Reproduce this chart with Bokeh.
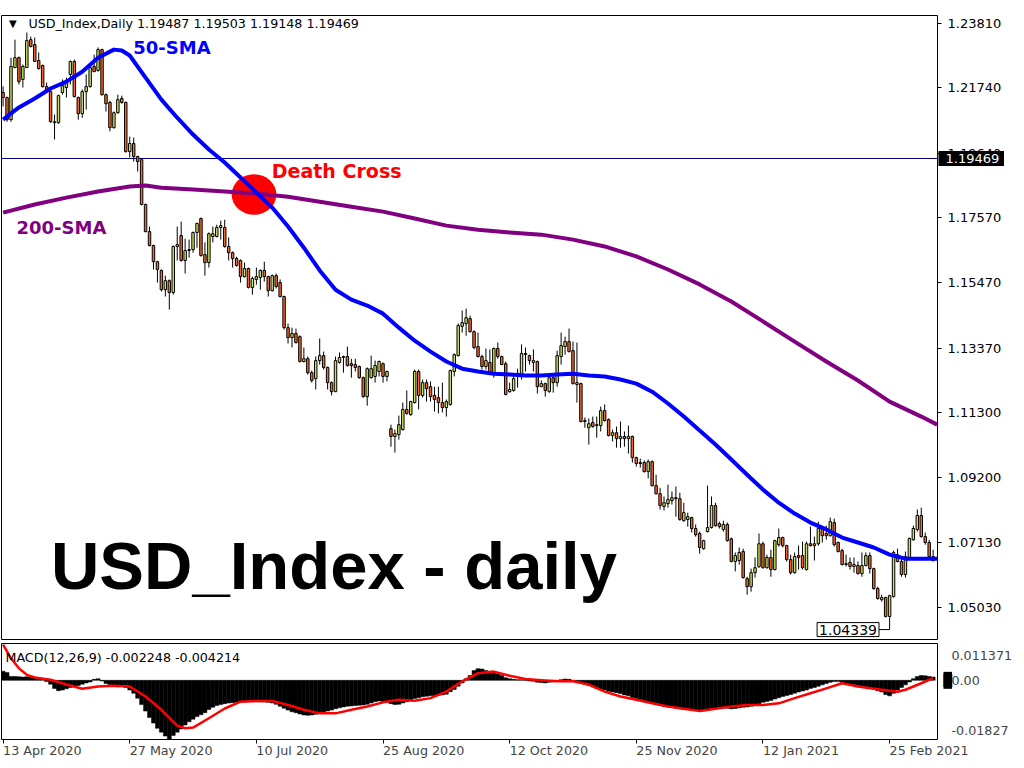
import numpy as np
from bokeh.plotting import figure
from bokeh.models import Range1d, FixedTicker, Label, Span, NumeralTickFormatter
from bokeh.layouts import column
from bokeh.embed import file_html
from bokeh.resources import INLINE

# ---------------- data ----------------
opens = [1.2159, 1.2143, 1.2072, 1.2239, 1.2271, 1.2201, 1.2239, 1.2329, 1.2313, 1.2262,
         1.2246, 1.2178, 1.2162, 1.2062, 1.2062, 1.2159, 1.2175, 1.2217, 1.2259, 1.2143,
         1.2091, 1.2162, 1.2178, 1.2243, 1.2230, 1.2297, 1.2152, 1.2127, 1.2046, 1.2094,
         1.2140, 1.2127, 1.1969, 1.1995, 1.1953, 1.1943, 1.1799, 1.1712, 1.1667, 1.1615,
         1.1587, 1.1525, 1.1554, 1.1516, 1.1664, 1.1699, 1.1619, 1.1651, 1.1654, 1.1709,
         1.1754, 1.1638, 1.1612, 1.1696, 1.1696, 1.1725, 1.1725, 1.1664, 1.1644, 1.1625,
         1.1619, 1.1567, 1.1593, 1.1532, 1.1558, 1.1564, 1.1587, 1.1567, 1.1522, 1.1570,
         1.1548, 1.1503, 1.1403, 1.1371, 1.1384, 1.1374, 1.1294, 1.1303, 1.1258, 1.1239,
         1.1297, 1.1313, 1.1275, 1.1226, 1.1197, 1.1291, 1.1307, 1.1310, 1.1287, 1.1284,
         1.1278, 1.1242, 1.1181, 1.1242, 1.1246, 1.1262, 1.1287, 1.1246, 1.1078, 1.1053,
         1.1059, 1.1075, 1.1140, 1.1123, 1.1162, 1.1262, 1.1185, 1.1226, 1.1213, 1.1185,
         1.1178, 1.1162, 1.1146, 1.1156, 1.1262, 1.1313, 1.1407, 1.1416, 1.1432, 1.1390,
         1.1342, 1.1310, 1.1278, 1.1291, 1.1258, 1.1336, 1.1310, 1.1287, 1.1197, 1.1201,
         1.1249, 1.1249, 1.1320, 1.1313, 1.1291, 1.1294, 1.1213, 1.1223, 1.1197, 1.1242,
         1.1226, 1.1310, 1.1342, 1.1358, 1.1329, 1.1220, 1.1223, 1.1101, 1.1081, 1.1098,
         1.1091, 1.1088, 1.1136, 1.1107, 1.1056, 1.1065, 1.1046, 1.1053, 1.1046, 1.1053,
         1.0985, 1.0966, 1.0969, 1.0940, 1.0972, 1.0895, 1.0869, 1.0828, 1.0837, 1.0847,
         1.0856, 1.0853, 1.0782, 1.0786, 1.0792, 1.0757, 1.0741, 1.0692, 1.0747, 1.0760,
         1.0831, 1.0773, 1.0754, 1.0770, 1.0724, 1.0651, 1.0654, 1.0683, 1.0596, 1.0570,
         1.0615, 1.0634, 1.0708, 1.0631, 1.0664, 1.0625, 1.0705, 1.0728, 1.0702, 1.0657,
         1.0615, 1.0670, 1.0670, 1.0625, 1.0708, 1.0702, 1.0708, 1.0757, 1.0741, 1.0734,
         1.0776, 1.0712, 1.0686, 1.0641, 1.0648, 1.0635, 1.0638, 1.0612, 1.0638, 1.0670,
         1.0628, 1.0564, 1.0528, 1.0535, 1.0474, 1.0538, 1.0673, 1.0651, 1.0609, 1.0664,
         1.0721, 1.0754, 1.0799, 1.0731, 1.0712, 1.0654]

highs = [1.2179, 1.2146, 1.2271, 1.2329, 1.2275, 1.2249, 1.2352, 1.2339, 1.2336, 1.2288,
         1.2249, 1.2191, 1.2165, 1.2088, 1.2152, 1.2201, 1.2207, 1.2262, 1.2265, 1.2146,
         1.2169, 1.2217, 1.2243, 1.2281, 1.2304, 1.2300, 1.2156, 1.2133, 1.2098, 1.2152,
         1.2149, 1.2130, 1.2017, 1.2014, 1.1956, 1.1946, 1.1802, 1.1728, 1.1670, 1.1618,
         1.1590, 1.1570, 1.1558, 1.1667, 1.1728, 1.1744, 1.1689, 1.1686, 1.1712, 1.1741,
         1.1757, 1.1677, 1.1709, 1.1728, 1.1734, 1.1747, 1.1750, 1.1693, 1.1648, 1.1631,
         1.1622, 1.1612, 1.1596, 1.1567, 1.1596, 1.1590, 1.1615, 1.1570, 1.1574, 1.1577,
         1.1558, 1.1506, 1.1416, 1.1403, 1.1400, 1.1378, 1.1339, 1.1310, 1.1265, 1.1310,
         1.1368, 1.1326, 1.1278, 1.1230, 1.1310, 1.1323, 1.1313, 1.1342, 1.1303, 1.1303,
         1.1281, 1.1246, 1.1275, 1.1313, 1.1297, 1.1297, 1.1291, 1.1265, 1.1091, 1.1075,
         1.1120, 1.1162, 1.1201, 1.1168, 1.1268, 1.1268, 1.1236, 1.1236, 1.1230, 1.1213,
         1.1213, 1.1226, 1.1172, 1.1268, 1.1320, 1.1416, 1.1458, 1.1464, 1.1442, 1.1394,
         1.1387, 1.1316, 1.1336, 1.1333, 1.1339, 1.1355, 1.1313, 1.1294, 1.1226, 1.1255,
         1.1271, 1.1349, 1.1339, 1.1316, 1.1333, 1.1297, 1.1233, 1.1226, 1.1252, 1.1252,
         1.1329, 1.1387, 1.1374, 1.1400, 1.1358, 1.1355, 1.1226, 1.1114, 1.1111, 1.1117,
         1.1117, 1.1149, 1.1156, 1.1111, 1.1075, 1.1085, 1.1101, 1.1069, 1.1088, 1.1056,
         1.0988, 1.0982, 1.0976, 1.0979, 1.0976, 1.0930, 1.0888, 1.0860, 1.0898, 1.0876,
         1.0892, 1.0872, 1.0840, 1.0808, 1.0795, 1.0770, 1.0747, 1.0721, 1.0895, 1.0860,
         1.0840, 1.0779, 1.0782, 1.0776, 1.0728, 1.0680, 1.0696, 1.0692, 1.0602, 1.0628,
         1.0664, 1.0741, 1.0715, 1.0673, 1.0689, 1.0721, 1.0757, 1.0731, 1.0705, 1.0673,
         1.0680, 1.0702, 1.0715, 1.0715, 1.0763, 1.0731, 1.0779, 1.0763, 1.0766, 1.0792,
         1.0789, 1.0715, 1.0692, 1.0673, 1.0664, 1.0664, 1.0651, 1.0680, 1.0680, 1.0680,
         1.0631, 1.0570, 1.0544, 1.0538, 1.0544, 1.0686, 1.0692, 1.0660, 1.0683, 1.0728,
         1.0766, 1.0818, 1.0824, 1.0744, 1.0721, 1.0689]

lows = [1.2114, 1.2065, 1.2065, 1.2239, 1.2185, 1.2175, 1.2239, 1.2304, 1.2259, 1.2233,
        1.2175, 1.2159, 1.2062, 1.2008, 1.2059, 1.2152, 1.2143, 1.2185, 1.2143, 1.2072,
        1.2078, 1.2104, 1.2175, 1.2226, 1.2226, 1.2149, 1.2098, 1.2034, 1.2043, 1.2091,
        1.2123, 1.1966, 1.1950, 1.1937, 1.1905, 1.1796, 1.1709, 1.1664, 1.1590, 1.1548,
        1.1519, 1.1503, 1.1461, 1.1509, 1.1619, 1.1615, 1.1577, 1.1628, 1.1644, 1.1660,
        1.1631, 1.1570, 1.1596, 1.1677, 1.1693, 1.1686, 1.1660, 1.1619, 1.1596, 1.1599,
        1.1548, 1.1564, 1.1529, 1.1509, 1.1541, 1.1525, 1.1551, 1.1503, 1.1519, 1.1529,
        1.1500, 1.1397, 1.1352, 1.1339, 1.1352, 1.1291, 1.1291, 1.1252, 1.1226, 1.1204,
        1.1284, 1.1268, 1.1204, 1.1185, 1.1197, 1.1287, 1.1258, 1.1278, 1.1242, 1.1262,
        1.1239, 1.1178, 1.1152, 1.1239, 1.1226, 1.1246, 1.1226, 1.1230, 1.1020, 1.1001,
        1.1043, 1.1072, 1.1123, 1.1120, 1.1159, 1.1140, 1.1178, 1.1165, 1.1165, 1.1133,
        1.1127, 1.1130, 1.1117, 1.1152, 1.1246, 1.1310, 1.1387, 1.1377, 1.1387, 1.1333,
        1.1307, 1.1268, 1.1268, 1.1252, 1.1242, 1.1303, 1.1284, 1.1185, 1.1194, 1.1197,
        1.1210, 1.1236, 1.1262, 1.1284, 1.1262, 1.1191, 1.1213, 1.1181, 1.1194, 1.1194,
        1.1213, 1.1284, 1.1316, 1.1323, 1.1220, 1.1162, 1.1098, 1.1081, 1.1027, 1.1081,
        1.1049, 1.1069, 1.1101, 1.1053, 1.1037, 1.1017, 1.1017, 1.1020, 1.0998, 1.0969,
        1.0956, 1.0953, 1.0937, 1.0918, 1.0892, 1.0866, 1.0818, 1.0815, 1.0824, 1.0834,
        1.0795, 1.0782, 1.0779, 1.0763, 1.0744, 1.0731, 1.0676, 1.0689, 1.0744, 1.0757,
        1.0763, 1.0757, 1.0747, 1.0715, 1.0648, 1.0619, 1.0641, 1.0596, 1.0544, 1.0554,
        1.0599, 1.0631, 1.0628, 1.0628, 1.0602, 1.0622, 1.0699, 1.0696, 1.0651, 1.0609,
        1.0612, 1.0625, 1.0625, 1.0622, 1.0699, 1.0654, 1.0702, 1.0712, 1.0721, 1.0731,
        1.0699, 1.0680, 1.0638, 1.0635, 1.0625, 1.0615, 1.0609, 1.0602, 1.0635, 1.0612,
        1.0560, 1.0528, 1.0522, 1.0471, 1.0471, 1.0535, 1.0648, 1.0602, 1.0599, 1.0657,
        1.0718, 1.0747, 1.0728, 1.0705, 1.0657, 1.0651]

closes = [1.2143, 1.2072, 1.2243, 1.2271, 1.2194, 1.2243, 1.2326, 1.2307, 1.2259, 1.2236,
          1.2178, 1.2162, 1.2065, 1.2065, 1.2149, 1.2181, 1.2191, 1.2259, 1.2146, 1.2091,
          1.2162, 1.2178, 1.2239, 1.2226, 1.2297, 1.2152, 1.2123, 1.2046, 1.2094, 1.2136,
          1.2127, 1.1969, 1.1995, 1.1953, 1.1937, 1.1799, 1.1712, 1.1667, 1.1615, 1.1590,
          1.1525, 1.1554, 1.1516, 1.1664, 1.1670, 1.1619, 1.1651, 1.1654, 1.1709, 1.1738,
          1.1635, 1.1612, 1.1705, 1.1705, 1.1725, 1.1731, 1.1664, 1.1644, 1.1625, 1.1603,
          1.1567, 1.1593, 1.1532, 1.1561, 1.1567, 1.1587, 1.1567, 1.1522, 1.1570, 1.1535,
          1.1503, 1.1403, 1.1371, 1.1384, 1.1355, 1.1294, 1.1303, 1.1258, 1.1233, 1.1297,
          1.1313, 1.1275, 1.1226, 1.1197, 1.1297, 1.1307, 1.1310, 1.1281, 1.1281, 1.1275,
          1.1242, 1.1181, 1.1271, 1.1271, 1.1281, 1.1294, 1.1246, 1.1262, 1.1053, 1.1062,
          1.1091, 1.1140, 1.1127, 1.1165, 1.1262, 1.1185, 1.1226, 1.1207, 1.1181, 1.1172,
          1.1162, 1.1146, 1.1165, 1.1265, 1.1316, 1.1410, 1.1419, 1.1435, 1.1390, 1.1339,
          1.1310, 1.1278, 1.1297, 1.1255, 1.1336, 1.1310, 1.1284, 1.1188, 1.1204, 1.1239,
          1.1255, 1.1320, 1.1316, 1.1297, 1.1297, 1.1213, 1.1223, 1.1201, 1.1242, 1.1226,
          1.1313, 1.1345, 1.1358, 1.1326, 1.1223, 1.1226, 1.1101, 1.1104, 1.1094, 1.1085,
          1.1088, 1.1136, 1.1104, 1.1056, 1.1065, 1.1046, 1.1053, 1.1046, 1.1053, 1.0985,
          1.0966, 1.0969, 1.0940, 1.0972, 1.0895, 1.0869, 1.0831, 1.0840, 1.0850, 1.0856,
          1.0853, 1.0786, 1.0808, 1.0795, 1.0757, 1.0737, 1.0696, 1.0718, 1.0760, 1.0831,
          1.0766, 1.0763, 1.0770, 1.0718, 1.0651, 1.0670, 1.0680, 1.0599, 1.0570, 1.0615,
          1.0631, 1.0708, 1.0631, 1.0664, 1.0625, 1.0718, 1.0728, 1.0702, 1.0657, 1.0615,
          1.0667, 1.0664, 1.0631, 1.0708, 1.0702, 1.0708, 1.0757, 1.0734, 1.0734, 1.0779,
          1.0705, 1.0683, 1.0641, 1.0644, 1.0635, 1.0641, 1.0612, 1.0638, 1.0670, 1.0628,
          1.0564, 1.0532, 1.0535, 1.0474, 1.0541, 1.0680, 1.0651, 1.0609, 1.0667, 1.0725,
          1.0757, 1.0799, 1.0731, 1.0712, 1.0667, 1.0667]

sma50_bars = [0, 4, 8, 12, 16, 20, 24, 28, 30, 32, 36, 40, 44, 48, 52, 56, 60, 64, 68, 72,
              76, 80, 84, 88, 92, 96, 100, 104, 108, 112, 116, 120, 124, 128, 132, 136, 140,
              144, 148, 152, 156, 160, 164, 168, 172, 176, 180, 184, 188, 192, 196, 200, 204,
              208, 212, 216, 220, 224, 228, 232, 236]
sma50_vals = [1.2072, 1.2111, 1.2140, 1.2172, 1.2194, 1.2226, 1.2271, 1.2297, 1.2294, 1.2278,
              1.2207, 1.2136, 1.2078, 1.2024, 1.1976, 1.1934, 1.1886, 1.1837, 1.1789, 1.1728,
              1.1660, 1.1587, 1.1525, 1.1493, 1.1474, 1.1448, 1.1403, 1.1361, 1.1326, 1.1294,
              1.1271, 1.1262, 1.1255, 1.1252, 1.1249, 1.1249, 1.1252, 1.1255, 1.1249, 1.1246,
              1.1236, 1.1223, 1.1197, 1.1159, 1.1117, 1.1072, 1.1027, 1.0979, 1.0930, 1.0882,
              1.0840, 1.0805, 1.0776, 1.0754, 1.0728, 1.0712, 1.0696, 1.0673, 1.0660, 1.0660,
              1.0660]

sma200_bars = [0, 8, 16, 24, 32, 36, 40, 48, 56, 64, 72, 80, 88, 96, 104, 112, 120, 128, 136,
               144, 152, 160, 168, 176, 184, 192, 200, 208, 216, 224, 232, 236]
sma200_vals = [1.1773, 1.1799, 1.1821, 1.1841, 1.1857, 1.1860, 1.1853, 1.1847, 1.1841, 1.1834,
               1.1824, 1.1808, 1.1792, 1.1776, 1.1754, 1.1731, 1.1718, 1.1709, 1.1702, 1.1686,
               1.1664, 1.1632, 1.1590, 1.1542, 1.1487, 1.1423, 1.1358, 1.1294, 1.1233, 1.1165,
               1.1117, 1.1091]

macd_hist = [0.0028, 0.0024, 0.0012, 0.0012, 0.0011, 0.0010, 0.0011, 0.0010, 0.0009, 0.0006,
             0.0003, -0.0004, -0.0012, -0.0025, -0.0032, -0.0030, -0.0026, -0.0022, -0.0018, -0.0016,
             -0.0012, -0.0008, -0.0005, 0.0003, 0.0005, -0.0002, -0.0010, -0.0014, -0.0018, -0.0020,
             -0.0018, -0.0022, -0.0030, -0.0040, -0.0055, -0.0075, -0.0095, -0.0115, -0.0132, -0.0148,
             -0.0160, -0.0172, -0.0182, -0.0170, -0.0160, -0.0150, -0.0138, -0.0128, -0.0120, -0.0112,
             -0.0106, -0.0100, -0.0090, -0.0083, -0.0078, -0.0075, -0.0072, -0.0070, -0.0069, -0.0068,
             -0.0068, -0.0067, -0.0066, -0.0066, -0.0066, -0.0067, -0.0067, -0.0068, -0.0070, -0.0074,
             -0.0080, -0.0086, -0.0092, -0.0097, -0.0100, -0.0104, -0.0107, -0.0108, -0.0107, -0.0105,
             -0.0102, -0.0099, -0.0095, -0.0092, -0.0088, -0.0085, -0.0082, -0.0080, -0.0079, -0.0078,
             -0.0077, -0.0076, -0.0074, -0.0070, -0.0066, -0.0064, -0.0065, -0.0068, -0.0072, -0.0075,
             -0.0074, -0.0070, -0.0066, -0.0062, -0.0056, -0.0054, -0.0051, -0.0049, -0.0048, -0.0047,
             -0.0046, -0.0045, -0.0043, -0.0035, -0.0028, -0.0018, -0.0008, 0.0005, 0.0015, 0.0030,
             0.0036, 0.0035, 0.0030, 0.0026, 0.0023, 0.0020, 0.0015, 0.0008, 0.0005, 0.0003,
             0.0002, 0.0002, 0.0000, -0.0002, -0.0003, -0.0006, -0.0007, -0.0008, -0.0006, -0.0005,
             -0.0002, 0.0002, 0.0004, 0.0003, 0.0000, -0.0003, -0.0008, -0.0012, -0.0016, -0.0020,
             -0.0025, -0.0028, -0.0030, -0.0034, -0.0036, -0.0038, -0.0041, -0.0045, -0.0048, -0.0053,
             -0.0056, -0.0059, -0.0063, -0.0066, -0.0070, -0.0073, -0.0077, -0.0080, -0.0082, -0.0084,
             -0.0086, -0.0088, -0.0089, -0.0090, -0.0091, -0.0092, -0.0093, -0.0094, -0.0092, -0.0088,
             -0.0086, -0.0085, -0.0084, -0.0086, -0.0088, -0.0087, -0.0085, -0.0083, -0.0082, -0.0080,
             -0.0078, -0.0072, -0.0068, -0.0065, -0.0062, -0.0058, -0.0054, -0.0050, -0.0047, -0.0044,
             -0.0040, -0.0036, -0.0033, -0.0030, -0.0025, -0.0022, -0.0018, -0.0014, -0.0010, -0.0006,
             -0.0004, -0.0004, -0.0006, -0.0008, -0.0012, -0.0014, -0.0016, -0.0018, -0.0020, -0.0022,
             -0.0026, -0.0032, -0.0036, -0.0044, -0.0048, -0.0040, -0.0030, -0.0022, -0.0014, -0.0005,
             0.0005, 0.0012, 0.0015, 0.0014, 0.0012, 0.0010]

signal_bars = [0, 2, 4, 6, 8, 12, 16, 20, 24, 28, 32, 36, 40, 44, 46, 48, 52, 56, 60, 64, 68,
               72, 76, 80, 84, 88, 92, 96, 100, 104, 108, 112, 116, 120, 124, 128, 132, 136,
               140, 144, 148, 152, 156, 160, 164, 168, 172, 176, 180, 184, 188, 192, 196, 200,
               204, 208, 212, 216, 220, 224, 226, 228, 232, 235]
signal_vals = [0.0110, 0.0068, 0.0037, 0.0017, 0.0009, 0.0002, -0.0013, -0.0026, -0.0019, -0.0017,
               -0.0019, -0.0050, -0.0091, -0.0140, -0.0148, -0.0146, -0.0117, -0.0087, -0.0066,
               -0.0064, -0.0064, -0.0076, -0.0091, -0.0102, -0.0102, -0.0091, -0.0081, -0.0068,
               -0.0060, -0.0063, -0.0055, -0.0035, -0.0003, 0.0022, 0.0027, 0.0014, 0.0004, 0.0000,
               -0.0003, -0.0003, -0.0013, -0.0035, -0.0050, -0.0060, -0.0071, -0.0081, -0.0088,
               -0.0095, -0.0088, -0.0081, -0.0076, -0.0076, -0.0071, -0.0055, -0.0040, -0.0025,
               -0.0009, -0.0019, -0.0026, -0.0032, -0.0035, -0.0029, -0.0009, 0.0007]

price_tick_labels = ["1.23810", "1.21740", "1.19640", "1.17570", "1.15470",
                     "1.13370", "1.11300", "1.09200", "1.07130", "1.05030"]
date_tick_bars = [0, 32, 64, 96, 128, 160, 192, 224]
date_tick_labels = ["13 Apr 2020", "27 May 2020", "10 Jul 2020", "25 Aug 2020",
                    "12 Oct 2020", "25 Nov 2020", "12 Jan 2021", "25 Feb 2021"]
macd_scale_labels = ["0.011371", "0.00", "-0.01827"]
macd_min, macd_max = -0.01827, 0.011371
last_price = 1.19469
low_label = "1.04339"
header_text = "USD_Index,Daily  1.19487 1.19503 1.19148 1.19469"
macd_title = "MACD(12,26,9) -0.002248 -0.004214"

# ---------------- styling ----------------
FONT = "DejaVu Sans"
SMALL = "12.7px"
BULL = "#cfe05a"
BEAR = "#f4692b"
FW = 936
X_START, X_END = -0.4, 236.1

n = len(closes)
bars = np.arange(n)
o = np.array(opens)
c = np.array(closes)
h = np.maximum(np.array(highs), np.maximum(o, c))
l = np.minimum(np.array(lows), np.minimum(o, c))
bull = c >= o

xr = Range1d(X_START, X_END)

p = figure(frame_width=FW, frame_height=625, x_range=xr, y_range=Range1d(1.03969, 1.24067),
           output_backend="svg", toolbar_location=None, y_axis_location="right",
           x_axis_location=None, min_border_left=1, min_border_right=66,
           min_border_top=0, min_border_bottom=0)
p.grid.visible = False
p.outline_line_color = "black"
p.outline_line_alpha = 1.0
p.background_fill_color = "white"

ya = p.yaxis[0]
ya.ticker = FixedTicker(ticks=[float(t) for t in price_tick_labels])
ya.formatter = NumeralTickFormatter(format="0.00000")
ya.major_label_text_font = FONT
ya.major_label_text_font_size = "13px"
ya.major_label_text_color = "black"
ya.major_tick_in = 0
ya.major_tick_out = 4
ya.minor_tick_line_color = None
ya.axis_line_color = None
ya.major_label_standoff = 6

p.add_layout(Span(location=last_price, dimension="width", line_color="#000080",
                  line_width=1, level="underlay"))

# candles
p.segment(x0=bars, y0=l, x1=bars, y1=h, line_color="black", line_width=1)
p.vbar(x=bars[bull], bottom=o[bull], top=c[bull], width=0.62,
       fill_color=BULL, line_color="black", line_width=1)
p.vbar(x=bars[~bull], bottom=c[~bull], top=o[~bull], width=0.62,
       fill_color=BEAR, line_color="black", line_width=1)

# death cross marker
p.ellipse(x=63.4, y=1.1831, width=11.3, height=0.0130, fill_color="#ff0000", line_color=None)

p.line(sma200_bars, sma200_vals, line_color="#800080", line_width=4, line_join="round")
p.line(sma50_bars, sma50_vals, line_color="#0000ff", line_width=4, line_join="round")


def set_pad(lbl, left, right, top, bottom):
    for val in (dict(left=left, right=right, top=top, bottom=bottom),
                (top, right, bottom, left), max(left, top)):
        try:
            lbl.padding = val
            return
        except Exception:
            continue


def make_label(x, y, text, size, color="black", bold=False, align="left", baseline="middle",
               font=FONT, **kw):
    return Label(x=x, y=y, text=text, text_font=font, text_font_size=size,
                 text_color=color, text_font_style="bold" if bold else "normal",
                 text_align=align, text_baseline=baseline, **kw)


def lab(fig, *a, **kw):
    lbl = make_label(*a, **kw)
    fig.add_layout(lbl)
    return lbl


lab(p, 1.5, 1.2382, "\u25BC", "10px")
lab(p, 6.4, 1.2381, header_text, SMALL)
lab(p, 32.9, 1.2304, "50-SMA", "18px", color="#0000ff", bold=True)
lab(p, 3.4, 1.1725, "200-SMA", "18px", color="#800080", bold=True)
lab(p, 67.9, 1.1908, "Death Cross", "19px", color="#ff0000", bold=True)
lab(p, 12.1, 1.0638, "USD_Index - daily", "67px", bold=True, font="Liberation Sans")

# low annotation
imin = int(np.argmin(l))
low_box = lab(p, 213.5, 1.0432, low_label, "14px", align="center",
              border_line_color="black", background_fill_color="white")
set_pad(low_box, 2, 2, 2, 2)
p.line([221.3, bars[imin] + 1.0, bars[imin] + 1.0], [1.0432, 1.0432, l[imin]],
       line_color="black", line_width=1)

# current price tag on the price scale: in a side panel so it is not clipped to the frame
tag = make_label(X_END, last_price, f"{last_price:.5f}", "13px", color="white",
                 x_offset=1, background_fill_color="black")
set_pad(tag, 7, 7, 3, 3)
p.add_layout(tag, "above")

# ---------------- MACD ----------------
m = figure(frame_width=FW, frame_height=96, x_range=xr, y_range=Range1d(macd_min, macd_max),
           output_backend="svg", toolbar_location=None, y_axis_location="right",
           min_border_left=1, min_border_right=66, min_border_top=3, min_border_bottom=0)
m.grid.visible = False
m.outline_line_color = "black"
m.outline_line_alpha = 1.0

m.vbar(x=bars, top=macd_hist, bottom=0, width=1.0, fill_color="black",
       line_color="black", line_width=0.5)
m.line(signal_bars, signal_vals, line_color="#ff0000", line_width=2.5, line_join="round")

lab(m, 0.6, 0.0072, macd_title, SMALL)

macd_label_pos = [0.0077, 0.0, -0.0155]
my = m.yaxis[0]
my.ticker = FixedTicker(ticks=macd_label_pos)
my.major_label_overrides = {k: v for k, v in zip(macd_label_pos, macd_scale_labels)}
my.major_label_text_font = FONT
my.major_label_text_font_size = SMALL
my.major_tick_in = 0
my.major_tick_out = 0
my.minor_tick_line_color = None
my.axis_line_color = None
my.major_label_standoff = 14

mx = m.xaxis[0]
mx.ticker = FixedTicker(ticks=date_tick_bars)
mx.major_label_overrides = {b: s for b, s in zip(date_tick_bars, date_tick_labels)}
mx.major_label_text_font = FONT
mx.major_label_text_font_size = SMALL
mx.major_label_orientation = -1e-6
mx.major_tick_in = 0
mx.major_tick_out = 4
mx.minor_tick_line_color = None
mx.axis_line_color = None
mx.major_label_standoff = 7

# value marker next to the zero level (side panel so it is not clipped)
block = make_label(X_END, 0.0, "\u2588", "11px", x_offset=6, background_fill_color="black")
set_pad(block, 0, 0, 2, 2)
m.add_layout(block, "right")

layout = column(p, m, spacing=0)
open("out.html", "w").write(file_html(layout, INLINE))
